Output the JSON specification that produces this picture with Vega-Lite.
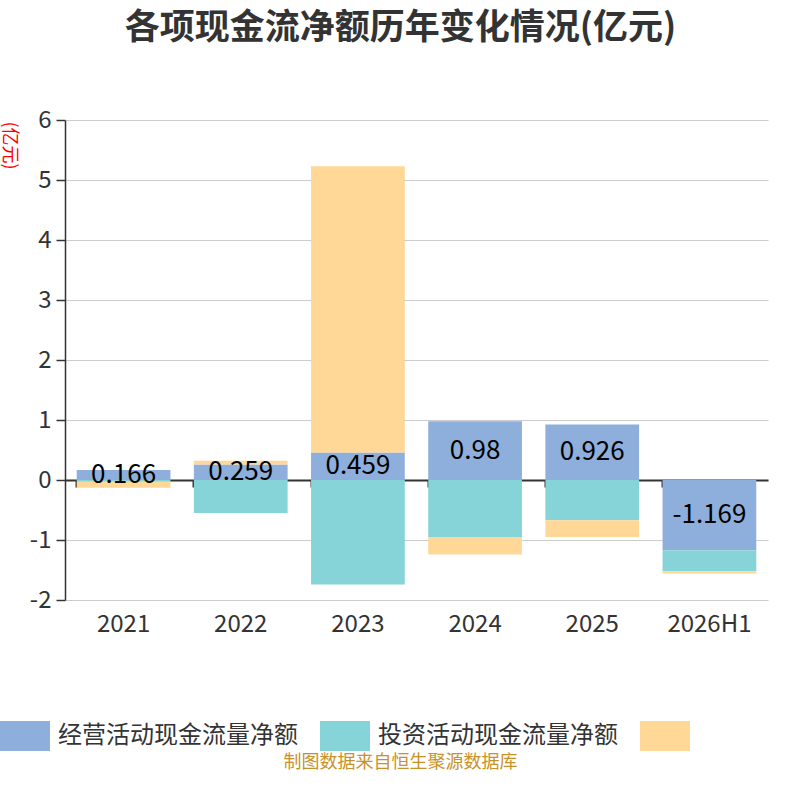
{
  "$schema": "https://vega.github.io/schema/vega-lite/v6.json",
  "width": 703,
  "height": 480,
  "autosize": {"type": "none"},
  "padding": {"left": 65, "top": 120, "right": 32, "bottom": 200},
  "background": "white",
  "config": {"font": "Noto Sans CJK SC", "view": {"stroke": null}},
  "title": {"text": "各项现金流净额历年变化情况(亿元)", "fontSize": 35, "fontWeight": "bold", "color": "#333333", "anchor": "middle", "dx": -16, "offset": 62},
  "data": {"values": [
    {"year": "2021", "type": "经营活动现金流量净额", "seq": 1, "value": 0.166},
    {"year": "2021", "type": "投资活动现金流量净额", "seq": 2, "value": -0.02},
    {"year": "2021", "type": "筹资活动现金流量净额", "seq": 3, "value": -0.11},
    {"year": "2022", "type": "经营活动现金流量净额", "seq": 1, "value": 0.259},
    {"year": "2022", "type": "投资活动现金流量净额", "seq": 2, "value": -0.55},
    {"year": "2022", "type": "筹资活动现金流量净额", "seq": 3, "value": 0.06},
    {"year": "2023", "type": "经营活动现金流量净额", "seq": 1, "value": 0.459},
    {"year": "2023", "type": "投资活动现金流量净额", "seq": 2, "value": -1.74},
    {"year": "2023", "type": "筹资活动现金流量净额", "seq": 3, "value": 4.77},
    {"year": "2024", "type": "经营活动现金流量净额", "seq": 1, "value": 0.98},
    {"year": "2024", "type": "投资活动现金流量净额", "seq": 2, "value": -0.95},
    {"year": "2024", "type": "筹资活动现金流量净额", "seq": 3, "value": -0.29},
    {"year": "2025", "type": "经营活动现金流量净额", "seq": 1, "value": 0.926},
    {"year": "2025", "type": "投资活动现金流量净额", "seq": 2, "value": -0.67},
    {"year": "2025", "type": "筹资活动现金流量净额", "seq": 3, "value": -0.28},
    {"year": "2026H1", "type": "经营活动现金流量净额", "seq": 1, "value": -1.169},
    {"year": "2026H1", "type": "投资活动现金流量净额", "seq": 2, "value": -0.35},
    {"year": "2026H1", "type": "筹资活动现金流量净额", "seq": 3, "value": -0.04}
  ]},
  "resolve": {"axis": {"x": "independent"}},
  "layer": [
    {
      "mark": {"type": "bar"},
      "encoding": {
        "x": {"field": "year", "type": "nominal",
          "scale": {"paddingInner": 0.2, "paddingOuter": 0.1},
          "title": "制图数据来自恒生聚源数据库",
          "axis": {"orient": "bottom", "domain": false, "ticks": false, "labelAngle": 0, "labelFontSize": 24, "labelColor": "#333333", "labelPadding": 12,
            "titleColor": "#c8922a", "titleFontSize": 18, "titleFontWeight": "normal", "titleX": 335, "titleY": 162, "titleAlign": "center", "titleBaseline": "middle"}},
        "y": {"field": "value", "type": "quantitative", "stack": "zero", "title": "(亿元)",
          "scale": {"domain": [-2, 6], "nice": false, "zero": false},
          "axis": {"values": [-2, -1, 0, 1, 2, 3, 4, 5, 6], "labelExpr": "'' + datum.value", "labelFontSize": 24, "labelColor": "#333333", "labelPadding": 5, "tickSize": 9, "tickColor": "#333333", "tickWidth": 1.5,
            "domainColor": "#333333", "domainWidth": 1.5, "gridColor": "#cccccc", "gridWidth": 1,
            "titleColor": "#ff0000", "titleFontSize": 18, "titleFontWeight": "normal", "titleAngle": 90, "titleX": -57, "titleY": 25, "titleAlign": "center", "titleBaseline": "middle"}},
        "color": {"field": "type", "type": "nominal",
          "scale": {"domain": ["经营活动现金流量净额", "投资活动现金流量净额", "筹资活动现金流量净额"], "range": ["#8eaedb", "#87d4d8", "#ffd897"]},
          "legend": {"orient": "none", "legendX": -65, "legendY": 591, "direction": "horizontal", "columns": 3, "title": null,
            "labelFontSize": 24, "labelColor": "#333333", "labelOffset": 8, "labelLimit": 400, "columnPadding": 22,
            "symbolType": "M-1,-0.6 L1,-0.6 L1,0.6 L-1,0.6 Z", "symbolSize": 2500, "symbolStrokeWidth": 0, "symbolOpacity": 1,
            "labelExpr": "datum.label == '筹资活动现金流量净额' ? '' : datum.label"}},
        "order": {"field": "seq", "type": "quantitative"}
      }
    },
    {
      "transform": [{"filter": "datum.seq == 1"}],
      "mark": {"type": "text", "fontSize": 26, "color": "#000000", "baseline": "middle", "align": "center"},
      "encoding": {
        "x": {"field": "year", "type": "nominal",
          "axis": {"orient": "bottom", "offset": -120, "labels": false, "title": null, "grid": false, "domain": true, "domainColor": "#333333", "domainWidth": 2, "ticks": true, "tickSize": 7, "tickColor": "#333333", "tickWidth": 2, "bandPosition": 0}},
        "y": {"field": "value", "type": "quantitative", "stack": "zero", "bandPosition": 0.5, "title": "(亿元)"},
        "text": {"field": "value", "type": "nominal"}
      }
    }
  ]
}
